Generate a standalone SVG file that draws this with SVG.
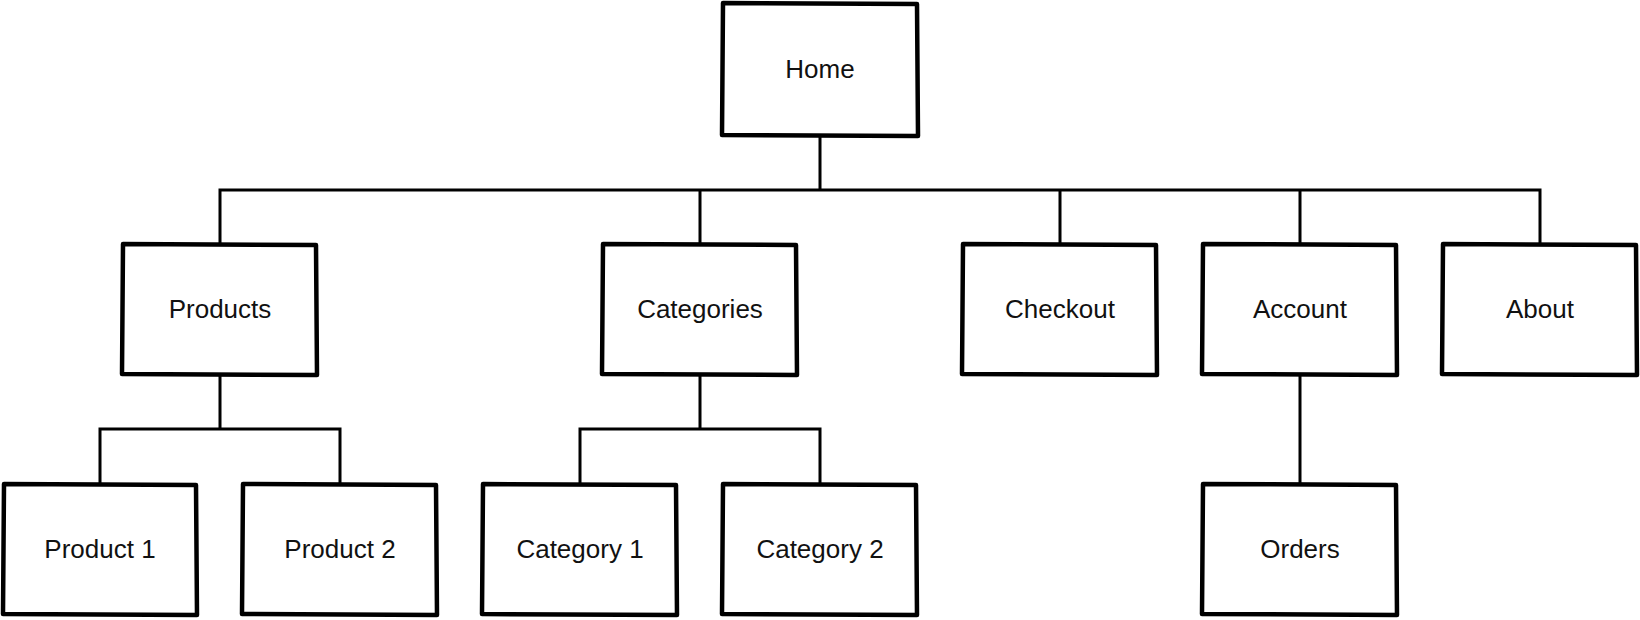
<svg xmlns="http://www.w3.org/2000/svg" width="1640" height="620" viewBox="0 0 1640 620">
<style>
.box{fill:#fff;stroke:#000;stroke-width:4.5;stroke-linejoin:round;stroke-linecap:round}
.con{fill:none;stroke:#000;stroke-width:3;stroke-linecap:square}
.lbl{font-family:"Liberation Sans",Arial,sans-serif;font-size:26px;fill:#111;text-anchor:middle}
</style>
<rect width="1640" height="620" fill="#fff"/>
<g id="connectors">
<path class="con" d="M820,137 V190 M220,190 H1540 M220,190 V243 M700,190 V243 M1060,190 V243 M1300,190 V243 M1540,190 V243"/>
<path class="con" d="M220,376 V429 M100,429 H340 M100,429 V483 M340,429 V483"/>
<path class="con" d="M700,376 V429 M580,429 H820 M580,429 V483 M820,429 V483"/>
<path class="con" d="M1300,376 V483"/>
</g>
<g id="home"><path class="box" d="M723,3 L917,4 L918,136 L722,135 Z"/><text class="lbl" x="820" y="78">Home</text></g>
<g id="products"><path class="box" d="M123,244 L316,245 L317,375 L122,374 Z"/><text class="lbl" x="220" y="318">Products</text></g>
<g id="categories"><path class="box" d="M603,244 L796,245 L797,375 L602,374 Z"/><text class="lbl" x="700" y="318">Categories</text></g>
<g id="checkout"><path class="box" d="M963,244 L1156,245 L1157,375 L962,374 Z"/><text class="lbl" x="1060" y="318">Checkout</text></g>
<g id="account"><path class="box" d="M1203,244 L1396,245 L1397,375 L1202,374 Z"/><text class="lbl" x="1300" y="318">Account</text></g>
<g id="about"><path class="box" d="M1443,244 L1636,245 L1637,375 L1442,374 Z"/><text class="lbl" x="1540" y="318">About</text></g>
<g id="product1"><path class="box" d="M4,484 L196,485 L197,615 L3,614 Z"/><text class="lbl" x="100" y="558">Product 1</text></g>
<g id="product2"><path class="box" d="M243,484 L436,485 L437,615 L242,614 Z"/><text class="lbl" x="340" y="558">Product 2</text></g>
<g id="category1"><path class="box" d="M483,484 L676,485 L677,615 L482,614 Z"/><text class="lbl" x="580" y="558">Category 1</text></g>
<g id="category2"><path class="box" d="M723,484 L916,485 L917,615 L722,614 Z"/><text class="lbl" x="820" y="558">Category 2</text></g>
<g id="orders"><path class="box" d="M1203,484 L1396,485 L1397,615 L1202,614 Z"/><text class="lbl" x="1300" y="558">Orders</text></g>
</svg>
